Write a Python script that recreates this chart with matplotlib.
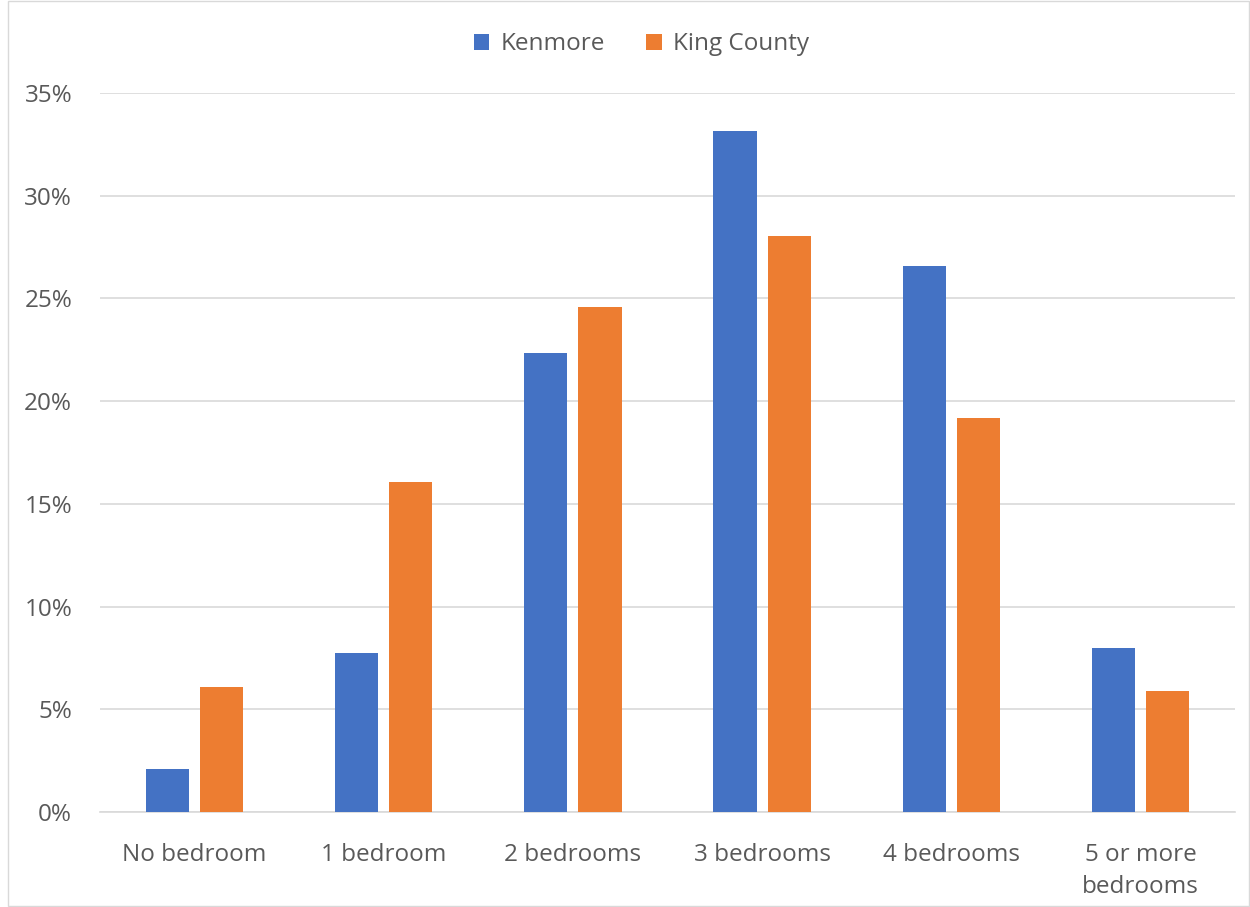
import matplotlib
matplotlib.use("Agg")
import matplotlib.pyplot as plt
import numpy as np
from matplotlib.ticker import FuncFormatter

categories = ["No bedroom", "1 bedroom", "2 bedrooms", "3 bedrooms", "4 bedrooms",
              "5 or more\nbedrooms"]
kenmore = [2.1, 7.75, 22.35, 33.15, 26.6, 8.0]
king_county = [6.1, 16.05, 24.6, 28.05, 19.2, 5.9]

BLUE = "#4472C4"
ORANGE = "#ED7D31"
TXT = "#595959"

plt.rcParams["font.family"] = ["Open Sans", "DejaVu Sans"]

fig = plt.figure(figsize=(12.5, 9.07), dpi=100)
ax = fig.add_axes([0.08, 0.1047, 0.908, 0.7928])

x = np.arange(len(categories))
w = 0.228
gap = 0.058
ax.bar(x - (w + gap) / 2, kenmore, w, color=BLUE, label="Kenmore", zorder=3)
ax.bar(x + (w + gap) / 2, king_county, w, color=ORANGE, label="King County", zorder=3)

ax.set_xlim(-0.5, len(categories) - 0.5)
ax.set_ylim(0, 35)
ax.set_yticks(np.arange(0, 36, 5))
ax.yaxis.set_major_formatter(FuncFormatter(lambda v, _: f"{v:.0f}%"))
ax.set_xticks(x)
ax.set_xticklabels(categories, linespacing=1.45)
ax.tick_params(axis="both", length=0, labelsize=17.5, colors=TXT)
ax.tick_params(axis="x", pad=22)
ax.tick_params(axis="y", pad=20)
ax.grid(axis="y", color="#D9D9D9", lw=1.2, zorder=0)
for s in ["top", "right", "left"]:
    ax.spines[s].set_visible(False)
ax.spines["bottom"].set_color("#D9D9D9")
ax.spines["bottom"].set_linewidth(1.2)

fig.legend(loc="center", bbox_to_anchor=(0.513, 0.951), ncol=2, frameon=False,
           fontsize=17.5, labelcolor=TXT, handlelength=0.65, handleheight=0.65,
           handletextpad=0.45, columnspacing=1.7)

fig.patches.append(plt.Rectangle((0.006, 0.001), 0.993, 0.998, transform=fig.transFigure,
                                 fill=False, edgecolor="#D9D9D9", lw=1))

fig.savefig("out.png", dpi=100)
